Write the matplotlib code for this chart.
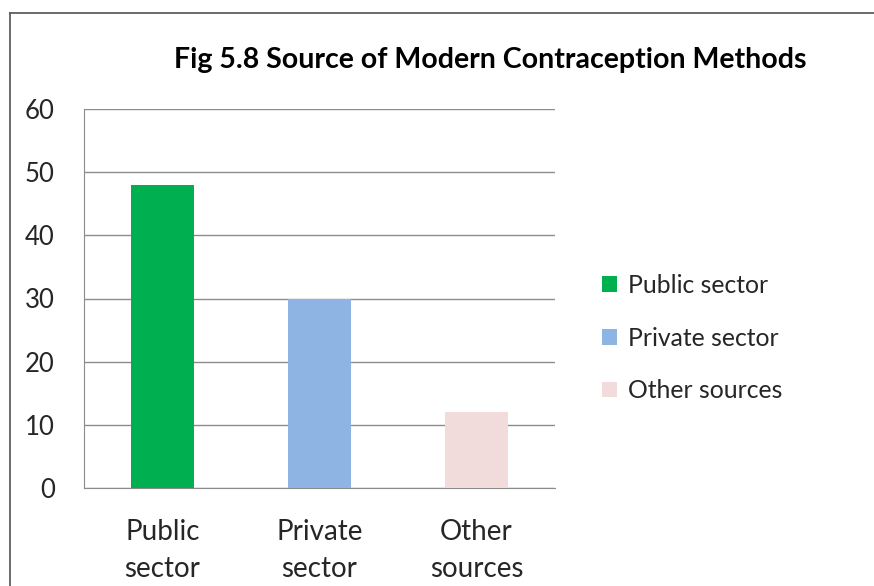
import matplotlib
matplotlib.use("Agg")
import matplotlib.pyplot as plt
from matplotlib.lines import Line2D

plt.rcParams['font.family'] = ['Lato', 'DejaVu Sans']

categories = ['Public\nsector', 'Private\nsector', 'Other\nsources']
legend_labels = ['Public sector', 'Private sector', 'Other sources']
values = [48, 30, 12]
colors = ['#00B050', '#8DB4E2', '#F2DCDB']
yticks = [0, 10, 20, 30, 40, 50, 60]

fig = plt.figure(figsize=(8.74, 5.86), dpi=100)
ax = fig.add_axes([84/874, 98/586, 471/874, 379/586])

x = range(len(values))
bars = ax.bar(x, values, width=0.4, color=colors, zorder=3)

ax.set_xlim(-0.5, 2.5)
ax.set_ylim(0, 60)
ax.set_yticks(yticks)
ax.set_xticks(list(x))
ax.set_xticklabels(categories, fontsize=20, color='#262626', linespacing=1.55)
ax.tick_params(axis='y', labelsize=18.5, labelcolor='#262626', length=0, pad=21)
ax.tick_params(axis='x', length=0, pad=22)
ax.yaxis.grid(True, color='#8C8C8C', linewidth=1.0, zorder=0)

for s in ['top', 'right']:
    ax.spines[s].set_visible(False)
ax.spines['left'].set_color('#8C8C8C')
ax.spines['bottom'].set_color('#8C8C8C')

fig.text(490/874, 1 - 60/586, 'Fig 5.8 Source of Modern Contraception Methods',
         ha='center', va='center', fontsize=20.5, fontweight='bold', color='#000000')

fig.legend(bars, legend_labels, loc='center left', bbox_to_anchor=(580/874, 1 - 338/586),
           frameon=False, fontsize=17.8, handlelength=0.6, handleheight=0.6,
           handletextpad=0.45, labelspacing=1.2, labelcolor='#262626')

# outer chart border
fig.add_artist(Line2D([9.5/874, 9.5/874], [0, 1 - 13/586], transform=fig.transFigure,
                      color='#5F5F5F', linewidth=1.3))
fig.add_artist(Line2D([9.5/874, 1], [1 - 13/586, 1 - 13/586], transform=fig.transFigure,
                      color='#5F5F5F', linewidth=1.3))

fig.savefig('out.png', dpi=100)
